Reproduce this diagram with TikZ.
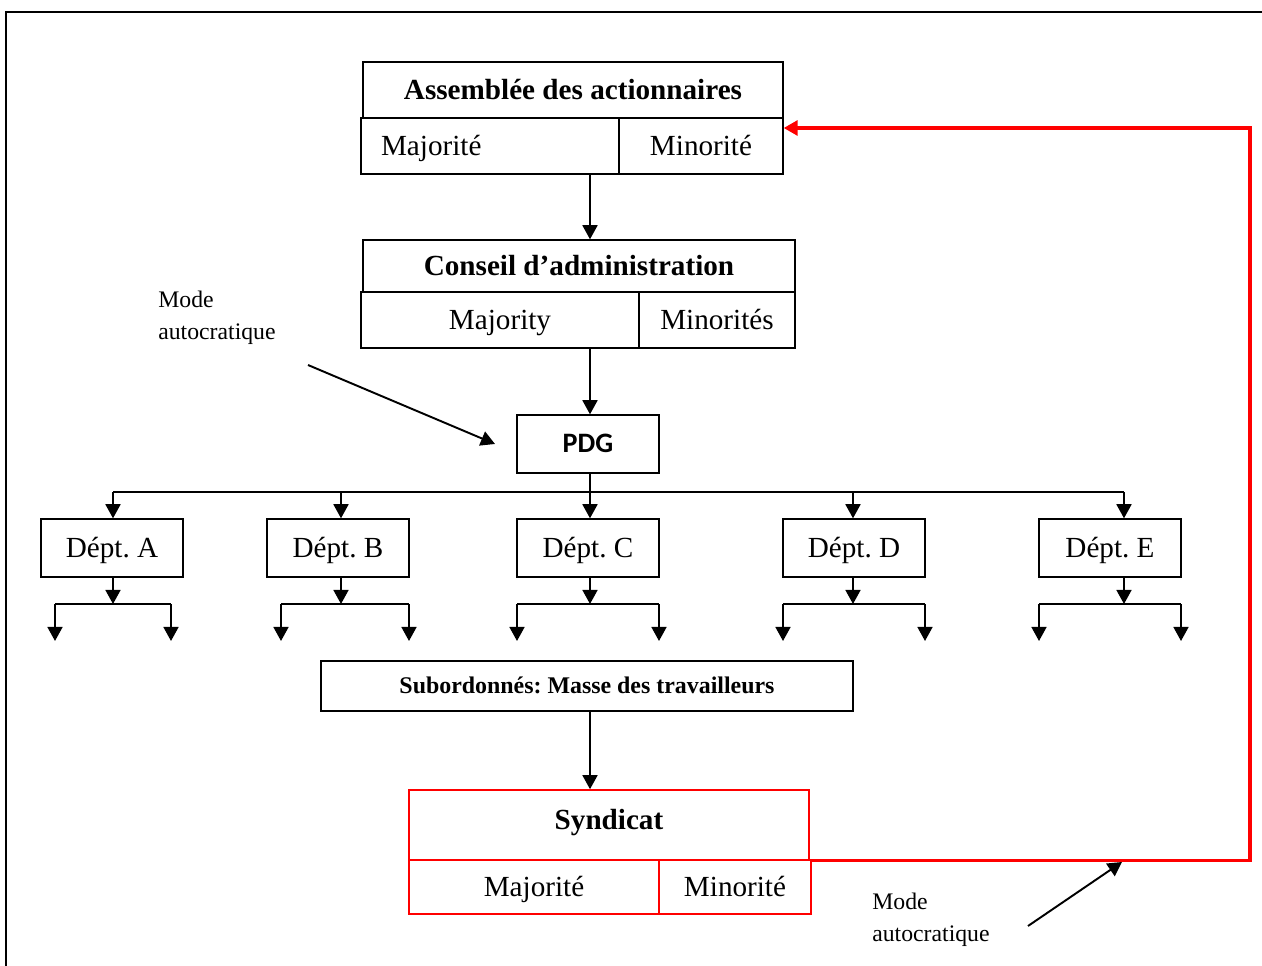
\documentclass[tikz,border=0pt]{standalone}
\usepackage{fontspec}
\setmainfont{Liberation Serif}
\newfontfamily\pdgfont{Carlito}
\usetikzlibrary{arrows.meta}
\frenchspacing

\begin{document}
\begin{tikzpicture}[>={Triangle[length=8pt,width=8.5pt]}, x=0.02cm, y=-0.02cm,
  cell/.style={draw, line width=0.8pt, inner sep=0pt, text height=11pt, text depth=0pt, font=\fontsize{16.6}{20}\selectfont},
  head/.style={cell, font=\fontsize{16.6}{20}\selectfont\bfseries},
  dept/.style={cell, minimum width=2.84cm, minimum height=1.16cm},
  link/.style={->, line width=1.1pt},
  rouge/.style={draw=red, line width=0.9pt},
  note/.style={align=left, inner sep=0pt, anchor=north west, font=\fontsize{13.5}{18}\selectfont}]
\useasboundingbox (0,0) rectangle (1262,966);
\draw[line width=1.2pt] (6,966) -- (6,12) -- (1262,12);

\coordinate (spine) at (590,0);

\node[head, minimum width=8.4cm, minimum height=1.12cm] (aTitle) at (573,90) {Assemblée des actionnaires};
\node[cell, minimum width=5.16cm, minimum height=1.12cm, text width=4.36cm, inner xsep=0.4cm, align=left] (aMaj) at (490,146) {Majorité};
\node[cell, minimum width=3.28cm, minimum height=1.12cm] (aMin) at (701,146) {Minorité};

\node[head, minimum width=8.64cm, minimum height=1.04cm] (cTitle) at (579,266) {Conseil d’administration};
\node[cell, minimum width=5.56cm, minimum height=1.12cm] (cMaj) at (500,320) {Majority};
\node[cell, minimum width=3.12cm, minimum height=1.12cm] (cMin) at (717,320) {Minorités};

\node[cell, minimum width=2.84cm, minimum height=1.16cm, text height=10pt, font=\pdgfont\bfseries\fontsize{16}{18}\selectfont] (pdg) at (588,444) {PDG};

\draw[link] (aMaj.south -| spine) -- (cTitle.north -| spine);
\draw[link] (cMaj.south -| spine) -- (pdg.north -| spine);

\foreach \n/\cx/\dx/\lx/\rx in {A/112/113/55/171, B/338/341/281/409, C/588/590/517/659, D/854/853/783/925, E/1110/1124/1039/1181}{
  \node[dept] (d\n) at (\cx,548) {Dépt. \n};
  \coordinate (t\n) at (\dx,492);
  \coordinate (b\n) at (\dx,604);
  \coordinate (l\n) at (\lx,604);
  \coordinate (r\n) at (\rx,604);
  \draw[link] (t\n) -- (d\n.north -| t\n);
  \draw[link] (d\n.south -| t\n) -- (b\n);
  \draw[line width=1.1pt] (l\n) -- (r\n);
  \draw[link] (l\n) -- ++(0,37);
  \draw[link] (r\n) -- ++(0,37);
}
\draw[line width=1.1pt] (pdg.south -| spine) -- (tC);
\draw[line width=1.1pt] (tA) -- (tE);

\node[cell, font=\fontsize{13.6}{16}\selectfont\bfseries, text height=9pt, minimum width=10.64cm, minimum height=1cm] (sub) at (587,686) {Subordonnés: Masse des travailleurs};

\node[head, rouge, minimum width=8cm, minimum height=1.4cm, text depth=6.4pt] (sTitle) at (609,825) {Syndicat};
\node[cell, rouge, minimum width=5cm, minimum height=1.08cm] (sMaj) at (534,887) {Majorité};
\node[cell, rouge, minimum width=3.04cm, minimum height=1.08cm] (sMin) at (735,887) {Minorité};

\draw[link] (sub.south -| spine) -- (sTitle.north -| spine);

\coordinate (rTop) at (1250,128);
\draw[->, red, line width=1.9pt] (sTitle.south east) -| (rTop) -- (aMin.east |- rTop);

\node[note] (mode1) at (158,291) {Mode\\autocratique};
\coordinate (m1a) at (308,365);
\coordinate (m1b) at (495,444);
\draw[link] (m1a) -- (m1b);

\node[note] (mode2) at (872,893) {Mode\\autocratique};
\coordinate (m2a) at (1028,926);
\coordinate (m2b) at (1122,862);
\draw[link] (m2a) -- (m2b);
\end{tikzpicture}
\end{document}
